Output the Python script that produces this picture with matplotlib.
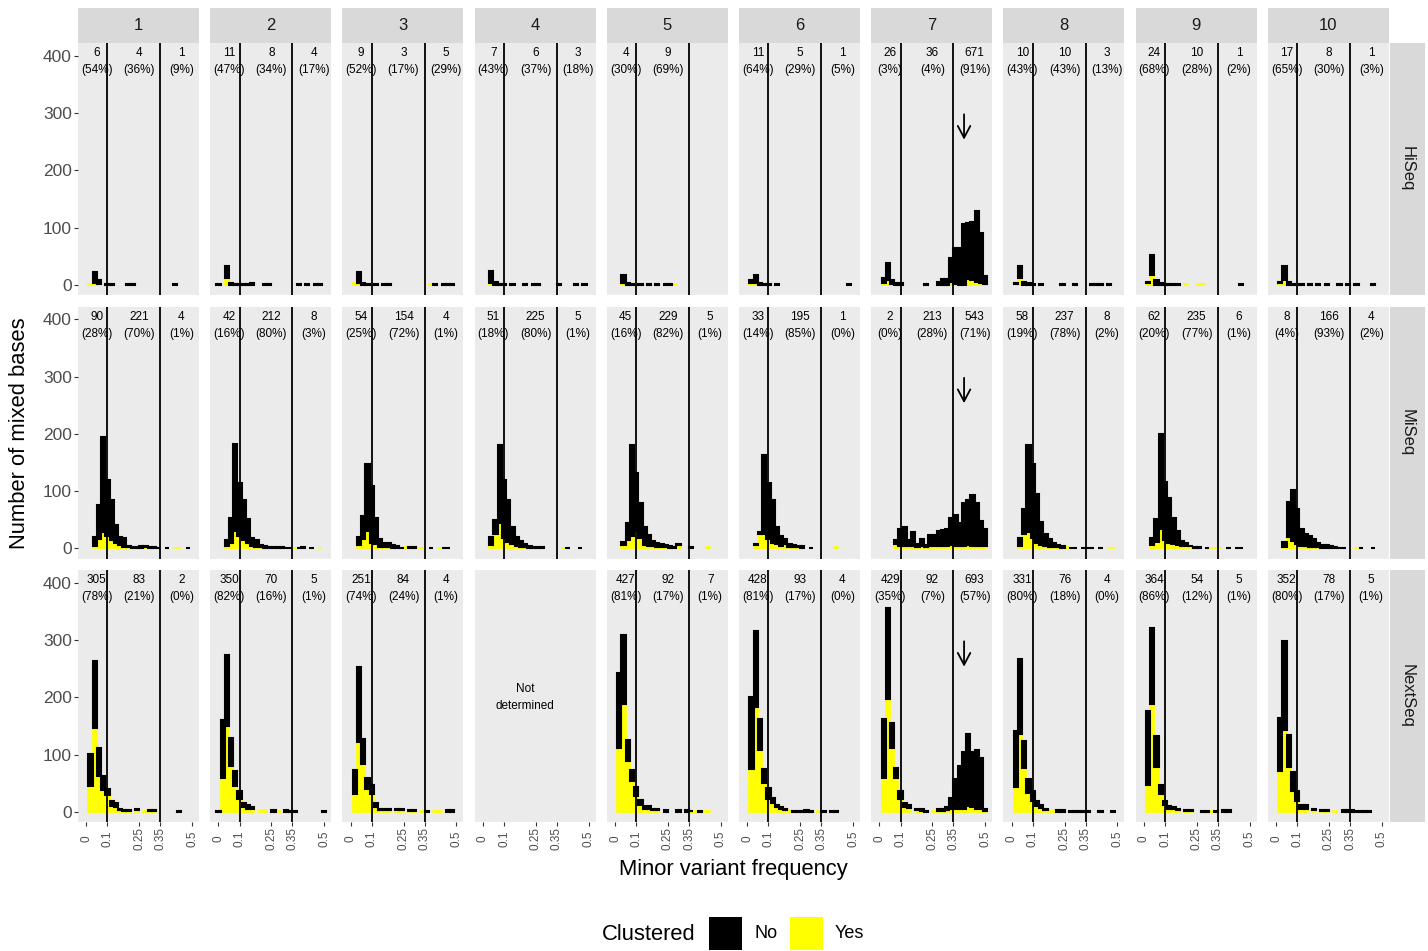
import numpy as np
import matplotlib.pyplot as plt
from matplotlib.patches import Rectangle

plt.rcParams['font.family'] = ['Liberation Sans', 'DejaVu Sans']

W, H = 1428, 951

# histogram bins (centre of each 0.02 wide bin)
bin_centers = [0.00, 0.02, 0.04, 0.06, 0.08, 0.10, 0.12, 0.14, 0.16, 0.18, 0.20, 0.22, 0.24,
               0.26, 0.28, 0.30, 0.32, 0.34, 0.36, 0.38, 0.40, 0.42, 0.44, 0.46, 0.48, 0.50]

platforms = ['HiSeq', 'MiSeq', 'NextSeq']
samples = ['1', '2', '3', '4', '5', '6', '7', '8', '9', '10']

# counts per bin, clustered = Yes / No
hiseq_yes = [
    [0,2,3,1,0,0,0,0,0,0,0,0,0,0,0,0,0,0,0,0,0,0,0,0,0,0],
    [0,0,12,0,0,0,0,0,0,0,0,0,0,0,0,0,0,0,0,0,0,0,0,0,0,0],
    [0,3,4,0,0,0,0,0,0,0,0,0,0,0,0,0,0,0,0,1,0,0,0,0,0,0],
    [0,0,3,0,0,0,0,0,0,0,0,0,0,0,0,0,0,0,0,0,0,0,0,0,0,0],
    [0,0,3,0,0,0,0,0,0,0,0,0,0,0,1,0,0,0,0,0,0,0,0,0,0,0],
    [0,4,3,0,0,0,0,0,0,0,0,0,0,0,0,0,0,0,0,0,0,0,0,0,0,0],
    [0,3,8,1,0,0,0,0,0,0,0,0,0,0,0,0,0,5,2,0,0,10,8,6,3,1],
    [0,2,12,0,0,0,0,0,0,0,0,0,0,0,0,0,0,0,0,0,0,0,0,0,0,0],
    [0,3,18,0,0,0,0,0,0,0,1,0,0,1,1,0,0,0,0,0,0,0,0,0,0,0],
    [0,4,8,0,0,0,0,0,0,0,0,0,0,0,0,0,0,0,0,0,0,0,0,0,0,0],
]
hiseq_no = [
    [0,0,20,8,0,1,1,0,0,0,1,1,0,0,0,0,0,0,0,0,0,1,0,0,0,0],
    [1,0,21,3,2,1,2,1,3,0,0,1,1,0,0,0,0,0,0,1,0,1,0,1,1,0],
    [0,0,18,4,1,0,1,0,1,1,0,0,0,0,0,0,0,0,0,0,1,0,1,1,1,0],
    [0,0,21,5,2,1,0,1,0,0,1,0,1,1,0,0,0,0,1,0,0,0,1,0,1,0],
    [0,0,14,4,1,0,1,0,1,0,1,0,1,1,0,0,0,0,0,0,0,0,0,0,0,0],
    [0,4,14,3,1,1,0,1,0,0,0,0,0,0,0,0,0,0,0,0,0,0,0,0,1,0],
    [0,9,30,8,3,3,0,0,0,0,0,1,0,0,5,10,10,42,62,64,107,98,102,124,87,14],
    [0,2,21,5,3,2,0,1,0,0,0,0,1,0,0,1,0,0,0,1,1,1,0,1,0,0],
    [0,2,34,8,4,2,1,1,1,0,0,0,0,0,0,0,0,0,0,0,0,0,0,1,0,0],
    [0,2,25,5,2,0,1,0,1,0,1,0,1,0,0,1,0,1,0,1,0,0,0,1,0,0],
]
miseq_yes = [
    [0,0,5,17,28,22,15,10,6,3,2,1,1,1,2,0,0,0,0,0,0,1,1,0,0,0],
    [0,0,4,10,31,22,15,10,5,3,2,1,0,0,0,0,0,0,1,0,1,0,0,0,1,0],
    [0,0,6,17,30,10,8,3,2,2,1,1,0,2,1,1,1,1,0,0,0,1,0,0,0,0],
    [0,0,6,25,44,19,12,8,5,3,2,1,0,0,0,0,0,0,0,1,0,0,0,0,0,0],
    [0,0,6,15,22,31,18,6,5,4,3,3,2,1,1,6,0,0,1,0,0,0,2,0,0,0],
    [0,0,6,26,26,16,10,8,5,8,3,2,2,1,0,0,0,0,0,0,0,2,0,0,0,0],
    [0,0,0,0,8,5,4,4,4,3,4,3,4,4,5,4,5,6,5,4,5,6,5,5,4,4],
    [0,0,4,26,28,18,10,6,5,3,2,2,1,2,0,0,0,0,0,0,0,0,0,1,1,0],
    [0,0,6,12,34,14,10,8,6,5,5,4,1,1,0,0,1,1,1,0,0,0,0,0,0,0],
    [0,0,3,20,13,8,5,4,3,3,2,1,1,1,1,0,0,0,0,1,0,0,0,0,0,0],
]
miseq_no = [
    [0,0,15,59,167,97,69,31,14,16,3,2,2,3,2,2,2,1,0,1,0,0,0,0,1,0],
    [0,0,11,44,152,93,69,41,14,12,4,3,2,2,2,2,1,1,0,1,2,0,1,0,0,0],
    [0,0,14,40,117,100,46,13,8,7,5,4,1,0,1,1,0,0,0,1,0,0,1,1,0,0],
    [0,0,14,25,136,101,73,29,15,10,6,4,3,3,2,0,0,0,0,0,1,0,0,1,0,0],
    [0,0,6,29,158,100,62,32,19,9,7,5,4,3,2,2,0,0,1,0,0,0,0,0,0,0],
    [0,0,2,2,137,99,74,30,17,8,5,4,3,4,0,1,0,0,0,0,0,0,0,0,0,0],
    [0,0,0,0,7,29,34,11,24,5,12,3,19,19,26,28,29,48,53,41,75,79,88,75,44,30],
    [0,0,14,43,152,130,86,41,20,13,7,4,4,0,1,1,0,1,1,1,0,1,0,0,0,0],
    [0,0,12,40,166,102,79,45,24,8,5,1,2,1,0,1,0,0,0,0,1,0,1,1,0,0],
    [0,0,9,61,89,61,29,21,18,13,8,5,5,4,2,1,1,0,0,0,1,0,0,1,0,0],
]
# sample 4 was not sequenced on the NextSeq -> None
nextseq_yes = [
    [0,45,146,62,38,29,10,8,3,1,1,0,3,0,2,1,1,0,0,0,0,0,0,0,0,0],
    [0,60,150,80,45,22,8,6,6,0,3,3,0,0,2,0,0,0,0,0,0,0,0,0,0,0],
    [0,31,123,84,40,32,8,3,3,3,0,3,3,0,1,1,0,2,0,0,2,2,0,0,0,0],
    None,
    [0,112,188,89,54,28,12,6,5,3,3,0,0,0,0,0,0,0,1,1,0,2,2,0,0,0],
    [0,75,183,108,51,22,15,8,5,3,3,0,0,0,0,0,0,2,0,0,0,0,0,0,0,0],
    [0,60,198,112,60,22,8,7,0,3,2,0,0,2,2,2,3,5,5,5,6,10,8,6,5,2],
    [0,44,136,77,34,19,10,7,3,3,3,0,0,0,0,0,0,0,0,0,0,0,0,0,0,0],
    [0,48,189,79,31,12,6,5,3,0,2,2,0,0,0,0,2,0,0,0,0,0,0,0,0,0],
    [0,72,143,79,37,19,6,5,0,3,0,2,2,0,2,0,0,0,0,0,0,0,0,0,0,0],
]
nextseq_no = [
    [0,56,118,50,24,12,10,7,3,2,2,0,3,0,0,2,2,0,0,0,0,0,2,0,0,0],
    [1,101,125,49,27,14,8,6,2,0,0,0,0,3,0,0,3,2,2,0,0,0,0,0,0,1],
    [0,42,131,44,20,16,8,3,2,3,0,2,2,0,2,2,0,0,2,0,0,0,0,3,3,0],
    None,
    [0,130,122,37,19,16,9,4,5,2,2,0,4,0,0,3,0,3,1,0,2,0,0,0,0,0],
    [0,125,134,55,24,20,10,5,3,2,0,2,2,1,4,2,0,0,2,0,2,2,0,0,0,0],
    [0,103,158,44,16,14,8,6,0,3,3,1,0,0,3,4,5,20,52,75,99,127,97,102,90,4],
    [0,97,132,47,23,17,9,5,3,0,0,3,3,0,2,2,2,2,2,0,0,1,0,0,1,0],
    [0,128,132,54,17,7,4,3,3,0,1,1,0,0,2,2,0,2,0,3,3,0,0,0,0,0],
    [0,92,156,55,32,17,7,7,0,2,0,1,1,0,0,0,3,3,3,2,2,2,2,0,0,0],
]

# number of positions (and %) below 0.1, between 0.1 and 0.35, above 0.35
hiseq_n = [[6,4,1],[11,8,4],[9,3,5],[7,6,3],[4,9,None],[11,5,1],[26,36,671],[10,10,3],[24,10,1],[17,8,1]]
hiseq_pct = [[54,36,9],[47,34,17],[52,17,29],[43,37,18],[30,69,None],[64,29,5],[3,4,91],[43,43,13],[68,28,2],[65,30,3]]
miseq_n = [[90,221,4],[42,212,8],[54,154,4],[51,225,5],[45,229,5],[33,195,1],[2,213,543],[58,237,8],[62,235,6],[8,166,4]]
miseq_pct = [[28,70,1],[16,80,3],[25,72,1],[18,80,1],[16,82,1],[14,85,0],[0,28,71],[19,78,2],[20,77,1],[4,93,2]]
nextseq_n = [[305,83,2],[350,70,5],[251,84,4],None,[427,92,7],[428,93,4],[429,92,693],[331,76,4],[364,54,5],[352,78,5]]
nextseq_pct = [[78,21,0],[82,16,1],[74,24,1],None,[81,17,1],[81,17,0],[35,7,57],[80,18,0],[86,12,1],[80,17,1]]

cutoffs = [0.1, 0.35]
xticks = [0, 0.1, 0.25, 0.35, 0.5]
xtick_labels = ['0', '0.1', '0.25', '0.35', '0.5']
yticks = [0, 100, 200, 300, 400]

all_yes = [hiseq_yes, miseq_yes, nextseq_yes]
all_no = [hiseq_no, miseq_no, nextseq_no]
all_n = [hiseq_n, miseq_n, nextseq_n]
all_pct = [hiseq_pct, miseq_pct, nextseq_pct]


def rect(left, top, w, h):
    # pixel box -> figure fraction
    return [left / W, 1 - (top + h) / H, w / W, h / H]


fig = plt.figure(figsize=(W / 100, H / 100), dpi=100)
fig.patch.set_facecolor('white')

panel_w, panel_h = 121, 252
col_left = [78 + i * 132.2 for i in range(10)]
row_top = [43, 306.5, 570]

for r in range(3):
    for c in range(10):
        ax = fig.add_axes(rect(col_left[c], row_top[r], panel_w, panel_h))
        ax.set_facecolor('#EBEBEB')
        for s in ax.spines.values():
            s.set_visible(False)
        ax.set_xlim(-0.039, 0.533)
        ax.set_ylim(-17.5, 422.7)

        yes = all_yes[r][c]
        no = all_no[r][c]
        if yes is None:
            ax.text(0.2, 200, 'Not\ndetermined', ha='center', va='center', fontsize=8.5,
                    linespacing=1.5)
        else:
            x = np.array(bin_centers)
            y1 = np.array(yes)
            y2 = np.array(no)
            m1 = y1 > 0
            m2 = y2 > 0
            ax.bar(x[m1], y1[m1], width=0.02, color='#FFFF00', edgecolor='#FFFF00',
                   linewidth=1.2, zorder=2)
            ax.bar(x[m2], y2[m2], bottom=y1[m2], width=0.02, color='black',
                   edgecolor='black', linewidth=1.5, zorder=2)
            for v in cutoffs:
                ax.axvline(v, color='black', linewidth=1.3, zorder=3)
            # counts in each frequency range
            for k, xp in enumerate([0.05, 0.25, 0.45]):
                n = all_n[r][c][k]
                if n is None:
                    continue
                ax.text(xp, 405, str(n), ha='center', va='center', fontsize=8.5, zorder=4)
                ax.text(xp, 375, '(' + str(all_pct[r][c][k]) + '%)', ha='center',
                        va='center', fontsize=8.5, zorder=4)
            if c == 6:
                ax.annotate('', xy=(0.4, 249), xytext=(0.4, 303),
                            arrowprops=dict(arrowstyle='->,head_length=0.85,head_width=0.45',
                                            color='black', lw=1.3, mutation_scale=10),
                            zorder=4)

        # axes ticks only on outer panels
        if c == 0:
            ax.set_yticks(yticks)
            ax.set_yticklabels([str(v) for v in yticks])
            ax.tick_params(axis='y', length=2.9, width=0.8, color='#333333',
                           labelcolor='#4D4D4D', labelsize=12.5, pad=1.5)
        else:
            ax.tick_params(axis='y', left=False, labelleft=False)
        if r == 2:
            ax.set_xticks(xticks)
            ax.set_xticklabels(xtick_labels, rotation=90)
            ax.tick_params(axis='x', length=2.9, width=0.8, color='#333333',
                           labelcolor='#4D4D4D', labelsize=8.5, pad=9)
            for lab in ax.get_xticklabels():
                lab.set_verticalalignment('center')
        else:
            ax.tick_params(axis='x', bottom=False, labelbottom=False)

        # strips
        if r == 0:
            sax = fig.add_axes(rect(col_left[c], 8, panel_w, 35))
            sax.set_facecolor('#D9D9D9')
            sax.set_xticks([])
            sax.set_yticks([])
            for s in sax.spines.values():
                s.set_visible(False)
            sax.text(0.5, 0.5, samples[c], ha='center', va='center', fontsize=12,
                     color='#1A1A1A', transform=sax.transAxes)
    sax = fig.add_axes(rect(1390, row_top[r], 35, panel_h))
    sax.set_facecolor('#D9D9D9')
    sax.set_xticks([])
    sax.set_yticks([])
    for s in sax.spines.values():
        s.set_visible(False)
    sax.text(0.5, 0.5, platforms[r], ha='center', va='center', rotation=270, fontsize=12,
             color='#1A1A1A', transform=sax.transAxes)

# axis titles
fig.text(20 / W, 1 - 433 / H, 'Number of mixed bases', rotation=90, ha='center',
         va='center', fontsize=15.8)
fig.text(733.5 / W, 1 - 870 / H, 'Minor variant frequency', ha='center', va='center',
         fontsize=15.8)

# legend
fig.text(649 / W, 1 - 934 / H, 'Clustered', ha='center', va='center', fontsize=15.8)
fig.patches.append(Rectangle((709 / W, 1 - 950 / H), 33 / W, 33 / H, facecolor='black',
                             edgecolor='none', transform=fig.transFigure, figure=fig))
fig.text(755 / W, 1 - 934 / H, 'No', ha='left', va='center', fontsize=13)
fig.patches.append(Rectangle((790 / W, 1 - 950 / H), 33 / W, 33 / H, facecolor='#FFFF00',
                             edgecolor='none', transform=fig.transFigure, figure=fig))
fig.text(835 / W, 1 - 934 / H, 'Yes', ha='left', va='center', fontsize=13)

plt.savefig('out.png', dpi=100)
plt.close()
